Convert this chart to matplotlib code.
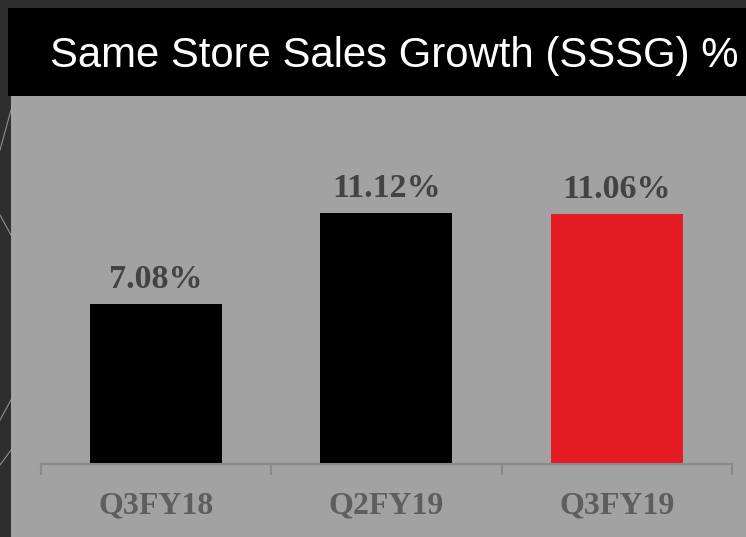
"""Same Store Sales Growth bar chart on a grey board panel."""

import matplotlib
matplotlib.use("Agg")
import matplotlib.pyplot as plt
import matplotlib.patches as patches

# ----------------------------------------------------------------------
# Data
# ----------------------------------------------------------------------
quarters = ["Q3FY18", "Q2FY19", "Q3FY19"]
sssg_pct = [7.08, 11.12, 11.06]
value_labels = ["7.08%", "11.12%", "11.06%"]
bar_colours = ["#000000", "#000000", "#E41B23"]

TITLE = "Same Store Sales Growth (SSSG) %"

# ----------------------------------------------------------------------
# Style
# ----------------------------------------------------------------------
COL_BG = "#2e2e2e"       # dark chalkboard surround
COL_PANEL = "#a2a2a2"    # grey chart panel
COL_AXIS = "#8a8a8a"
COL_VALUE = "#434343"
COL_CAT = "#5e5e5e"
SERIF = ["Liberation Serif", "DejaVu Serif"]

W_PX, H_PX = 746, 537
DPI = 100


def fx(px):
    return px / W_PX


def fy(py):
    # pixel measured from the top -> figure fraction from bottom
    return 1 - py / H_PX


fig = plt.figure(figsize=(W_PX / DPI, H_PX / DPI), dpi=DPI)
fig.patch.set_facecolor(COL_BG)

# grey panel + black title bar (figure coords, behind the axes)
fig.patches.append(patches.Rectangle(
    (fx(11), 0), 1 - fx(11), fy(96), transform=fig.transFigure,
    fc=COL_PANEL, ec="none", zorder=-2))
fig.patches.append(patches.Rectangle(
    (fx(8), fy(96)), 1 - fx(8), fy(8) - fy(96), transform=fig.transFigure,
    fc="#000000", ec="none", zorder=-2))

# a few faint chalk strokes on the dark left strip
for y0, y1 in [(150, 110), (215, 235), (420, 400), (465, 450)]:
    fig.add_artist(plt.Line2D([0, fx(11)], [fy(y0), fy(y1)],
                              transform=fig.transFigure,
                              color="#cfcfcf", lw=0.8, alpha=0.6, zorder=-1))

fig.text(fx(50), fy(67), TITLE, ha="left", va="baseline",
         fontsize=30.2, color="white", family=["Liberation Sans", "DejaVu Sans"])

# ----------------------------------------------------------------------
# Axes: baseline at y=464 px, 22.6 px per percentage point
# ----------------------------------------------------------------------
PX_PER_PCT = 22.6
Y_TOP = 16.0
ax_left, ax_right = 40.5, 732
ax_base = 464
ax = fig.add_axes([fx(ax_left), fy(ax_base), fx(ax_right - ax_left),
                   Y_TOP * PX_PER_PCT / H_PX])
ax.set_facecolor("none")
ax.set_zorder(1)

x = range(len(quarters))
ax.bar(x, sssg_pct, width=0.573, color=bar_colours, zorder=2)

for xi, v, lab in zip(x, sssg_pct, value_labels):
    ax.annotate(lab, (xi, v), xytext=(0, 11.5), textcoords="offset points",
                ha="center", va="baseline", fontsize=24.5,
                fontweight="bold", color=COL_VALUE, family=SERIF)

ax.set_xlim(-0.5, len(quarters) - 0.5)
ax.set_ylim(0, Y_TOP)

for side in ["top", "right", "left"]:
    ax.spines[side].set_visible(False)
ax.spines["bottom"].set_color(COL_AXIS)
ax.spines["bottom"].set_linewidth(1.5)
ax.set_yticks([])

ax.set_xticks(list(x))
ax.set_xticklabels(quarters, fontsize=23, fontweight="bold",
                   color=COL_CAT, family=SERIF)
ax.tick_params(axis="x", which="major", length=0, pad=20)
ax.set_xticks([i - 0.5 for i in range(len(quarters) + 1)], minor=True)
ax.tick_params(axis="x", which="minor", length=8, width=1.5,
               color=COL_AXIS, direction="out")

fig.savefig("out.png", dpi=DPI, facecolor=fig.get_facecolor())
